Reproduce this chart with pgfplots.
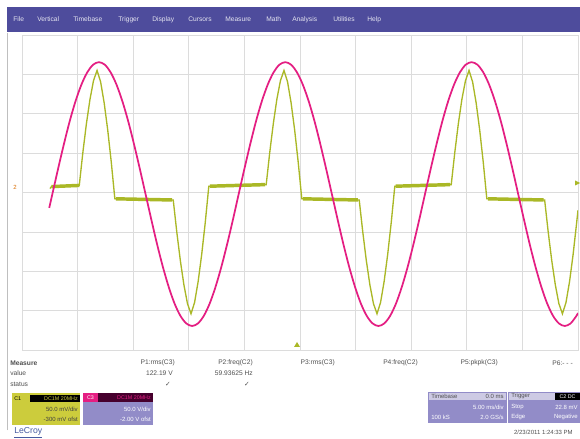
\documentclass[border=0pt]{standalone}
\usepackage{pgfplots}
\pgfplotsset{compat=1.18}
\usepackage{fontspec}
\setmainfont{Liberation Sans}
\newfontfamily\djv{DejaVu Sans}
\definecolor{menubar}{RGB}{78,76,156}
\definecolor{trmag}{RGB}{228,30,130}
\definecolor{trgrn}{RGB}{170,184,38}
\definecolor{gridc}{RGB}{220,220,220}
\definecolor{lav}{RGB}{146,140,200}
\definecolor{lavhd}{RGB}{205,202,228}
\definecolor{ylw}{RGB}{204,204,60}
\definecolor{darkmag}{RGB}{70,0,45}
\definecolor{txt}{RGB}{80,80,80}
\definecolor{lecroy}{RGB}{70,90,160}
\begin{document}
\begin{tikzpicture}[x=0.75pt,y=0.75pt,font=\fontsize{5}{6}\selectfont,
  every node/.style={inner sep=0pt}]
% page, in px: x right, y up (y = 438 - screen row)
\fill[white] (0,0) rectangle (580,438);
% menu bar
\fill[menubar] (7,406) rectangle (580,431);
\foreach \x/\t in {13/File,37/Vertical,73/Timebase,118/Trigger,152/Display,
  188/Cursors,225/Measure,266/Math,292/Analysis,333/Utilities,367/Help}
  \node[anchor=west,text=white!85!menubar] at (\x,418.5) {\t};
% outer frame
\draw[gray!50,line width=0.6pt] (7.5,8) -- (7.5,405);

\begin{axis}[
    at={(16.5pt,66pt)}, anchor=south west,
    width=417pt, height=236.25pt, scale only axis,
    xmin=0, xmax=10, ymin=-4, ymax=4,
    xtick={0,...,10}, ytick={-4,...,4},
    xticklabels={}, yticklabels={},
    major tick length=0pt,
    grid=major,
    major grid style={gridc, line width=0.5pt},
    axis line style={gridc, line width=0.6pt},
    unbounded coords=jump,
]
% C2 (current) trace
\addplot[trgrn, line width=1.0pt] coordinates {
(0.504,0.10) (0.53,0.15) (1.030,0.18)
(1.094,1.009) (1.158,1.742) (1.222,2.361) (1.286,2.840) (1.350,3.10)
(1.414,2.810) (1.478,2.275) (1.542,1.584) (1.606,0.766) (1.670,-0.16)
(2.0,-0.18) (2.720,-0.19)
(2.784,-1.004) (2.848,-1.732) (2.912,-2.346) (2.976,-2.822) (3.040,-3.08)
(3.104,-2.792) (3.168,-2.260) (3.232,-1.573) (3.296,-0.760) (3.360,0.16)
(3.8,0.18) (4.392,0.20)
(4.456,1.02) (4.520,1.75) (4.584,2.37) (4.648,2.84) (4.712,3.10)
(4.776,2.81) (4.840,2.275) (4.904,1.584) (4.968,0.766) (5.032,-0.16)
(5.5,-0.18) (6.065,-0.19)
(6.129,-1.004) (6.193,-1.732) (6.257,-2.346) (6.321,-2.822) (6.385,-3.08)
(6.449,-2.792) (6.513,-2.260) (6.577,-1.573) (6.641,-0.760) (6.705,0.16)
(7.2,0.18) (7.720,0.20)
(7.784,1.02) (7.848,1.75) (7.912,2.37) (7.976,2.84) (8.040,3.10)
(8.104,2.81) (8.168,2.275) (8.232,1.584) (8.296,0.766) (8.360,-0.16)
(8.9,-0.18) (9.400,-0.19)
(9.464,-1.004) (9.528,-1.732) (9.592,-2.346) (9.656,-2.822) (9.720,-3.08)
(9.784,-2.792) (9.848,-2.260) (9.912,-1.573) (9.976,-0.760) (10.0,-0.45)
};
% noisy flat parts are drawn wider
\addplot[trgrn, line width=2.6pt] coordinates {
(0.53,0.15) (1.03,0.18) (1.1,nan)
(1.69,-0.16) (2.70,-0.19) (2.8,nan)
(3.38,0.16) (4.37,0.20) (4.4,nan)
(5.05,-0.16) (6.04,-0.19) (6.1,nan)
(6.72,0.16) (7.70,0.20) (7.8,nan)
(8.38,-0.16) (9.38,-0.19)
};
% C3 (line voltage) trace
\addplot[trmag, line width=1.3pt, smooth] coordinates {
(0.490,-0.39) (0.546,-0.04) (0.651,0.614) (0.756,1.242) (0.860,1.821)
(0.965,2.329) (1.070,2.745) (1.175,3.055) (1.279,3.246) (1.384,3.31)
(1.489,3.246) (1.593,3.055) (1.698,2.745) (1.803,2.329) (1.908,1.821)
(2.012,1.242) (2.117,0.614) (2.222,-0.04) (2.327,-0.694) (2.431,-1.322)
(2.536,-1.901) (2.641,-2.409) (2.745,-2.825) (2.850,-3.135) (2.955,-3.326)
(3.060,-3.39) (3.164,-3.326) (3.269,-3.135) (3.374,-2.825) (3.478,-2.409)
(3.583,-1.901) (3.688,-1.322) (3.793,-0.694) (3.897,-0.04) (4.002,0.614)
(4.107,1.242) (4.211,1.821) (4.316,2.329) (4.421,2.745) (4.526,3.055)
(4.630,3.246) (4.735,3.31) (4.840,3.246) (4.944,3.055) (5.049,2.745)
(5.154,2.329) (5.259,1.821) (5.363,1.242) (5.468,0.614) (5.573,-0.04)
(5.678,-0.694) (5.782,-1.322) (5.887,-1.901) (5.992,-2.409) (6.096,-2.825)
(6.201,-3.135) (6.306,-3.326) (6.411,-3.39) (6.515,-3.326) (6.620,-3.135)
(6.725,-2.825) (6.829,-2.409) (6.934,-1.901) (7.039,-1.322) (7.144,-0.694)
(7.248,-0.04) (7.353,0.614) (7.458,1.242) (7.562,1.821) (7.667,2.329)
(7.772,2.745) (7.877,3.055) (7.981,3.246) (8.086,3.31) (8.191,3.246)
(8.295,3.055) (8.400,2.745) (8.505,2.329) (8.610,1.821) (8.714,1.242)
(8.819,0.614) (8.924,-0.04) (9.029,-0.694) (9.133,-1.322) (9.238,-1.901)
(9.343,-2.409) (9.447,-2.825) (9.552,-3.135) (9.657,-3.326) (9.762,-3.39)
(9.866,-3.326) (9.971,-3.135) (10.0,-3.06)
};
\end{axis}

% ground / trigger markers
\node[text=orange!85!black,font=\fontsize{4.5}{5}\selectfont] at (15,251) {2};
\fill[trgrn] (294,91) -- (300,91) -- (297,96) -- cycle;
\fill[trgrn] (580,255) -- (575,252.5) -- (575,257.5) -- cycle;

% measurement table
\node[anchor=west,text=txt,font=\fontsize{5}{6}\selectfont\bfseries] at (10,75) {Measure};
\node[anchor=west,text=txt] at (10,65) {value};
\node[anchor=west,text=txt] at (10,54) {status};
\foreach \x/\t in {175/P1:rms(C3),253/P2:freq(C2),335/P3:rms(C3),
  418/P4:freq(C2),498/P5:pkpk(C3),573/P6:- - -}
  \node[anchor=east,text=txt] at (\x,75) {\t};
\node[anchor=east,text=txt] at (173,65) {122.19 V};
\node[anchor=east,text=txt] at (253,65) {59.93625 Hz};
\node[text=txt,font=\djv\fontsize{5}{6}\selectfont] at (168,54) {✓};
\node[text=txt,font=\djv\fontsize{5}{6}\selectfont] at (247,54) {✓};

% channel badges
\fill[ylw] (12,13) rectangle (80,45);
\fill[black] (30,43) rectangle (80,36.5);
\node[anchor=west,text=black,font=\fontsize{4}{5}\selectfont] at (14,39.7) {C1};
\node[anchor=east,text=ylw,font=\fontsize{4}{5}\selectfont] at (78,39.7) {DC1M 20MHz};
\node[anchor=east,text=black!75,font=\fontsize{4.5}{5}\selectfont] at (78,29) {50.0 mV/div};
\node[anchor=east,text=black!75,font=\fontsize{4.5}{5}\selectfont] at (78,19) {-300 mV ofst};

\fill[lav] (83,13) rectangle (153,45);
\fill[trmag] (83,45) rectangle (98,36.5);
\fill[darkmag] (98,45) rectangle (153,36.5);
\node[text=white,font=\fontsize{4}{5}\selectfont] at (90.5,40.7) {C3};
\node[anchor=east,text=trmag,font=\fontsize{4}{5}\selectfont] at (151,40.7) {DC1M 20MHz};
\node[anchor=east,text=white,font=\fontsize{4.5}{5}\selectfont] at (151,29) {50.0 V/div};
\node[anchor=east,text=white,font=\fontsize{4.5}{5}\selectfont] at (151,19) {-2.00 V ofst};

% timebase and trigger badges
\fill[lav] (428,15) rectangle (507,46);
\fill[lavhd] (429,38) rectangle (506,45.5);
\node[anchor=west,text=txt,font=\fontsize{4.5}{5}\selectfont] at (431,41.7) {Timebase};
\node[anchor=east,text=txt,font=\fontsize{4.5}{5}\selectfont] at (504,41.7) {0.0 ms};
\node[anchor=east,text=white,font=\fontsize{4.5}{5}\selectfont] at (504,31) {5.00 ms/div};
\node[anchor=west,text=white,font=\fontsize{4.5}{5}\selectfont] at (431,21) {100 kS};
\node[anchor=east,text=white,font=\fontsize{4.5}{5}\selectfont] at (504,21) {2.0 GS/s};

\fill[lav] (508,15) rectangle (580,46);
\fill[lavhd] (509,38) rectangle (555,45.5);
\fill[black] (555,38) rectangle (580,45.5);
\node[anchor=west,text=txt,font=\fontsize{4.5}{5}\selectfont] at (511,41.7) {Trigger};
\node[text=white,font=\fontsize{4}{5}\selectfont] at (567.5,41.7) {C2 DC};
\node[anchor=west,text=white,font=\fontsize{4.5}{5}\selectfont] at (511,31) {Stop};
\node[anchor=east,text=white,font=\fontsize{4.5}{5}\selectfont] at (578,31) {22.8 mV};
\node[anchor=west,text=white,font=\fontsize{4.5}{5}\selectfont] at (511,21) {Edge};
\node[anchor=east,text=white,font=\fontsize{4.5}{5}\selectfont] at (578,21) {Negative};

% footer
\node[anchor=east,text=txt,font=\fontsize{4.5}{5}\selectfont] at (573,6) {2/23/2011 1:24:33 PM};
\node[anchor=west,text=lecroy,font=\fontsize{6.5}{7}\selectfont] at (14,5.5) {\underline{LeCroy}};
\end{tikzpicture}
\end{document}
